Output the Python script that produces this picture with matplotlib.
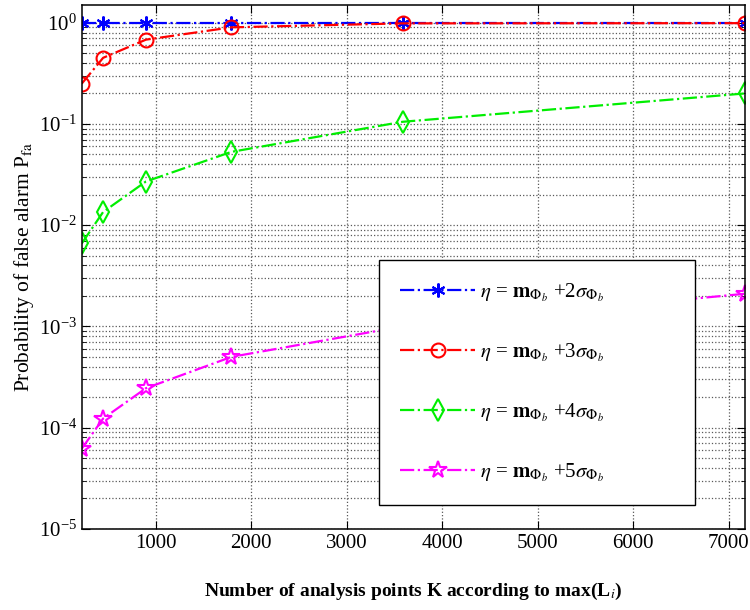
import matplotlib
matplotlib.use("Agg")
import matplotlib.pyplot as plt
from matplotlib.ticker import LogLocator, NullFormatter

plt.rcParams["font.family"] = ["Liberation Serif", "DejaVu Serif"]
plt.rcParams["mathtext.fontset"] = "stix"

# analysis points K
k_points = [224, 448, 896, 1792, 3584, 7168]

# false alarm probability for each threshold
pfa_2sigma = [0.99, 0.99, 0.99, 0.99, 0.99, 0.99]
pfa_3sigma = [0.25, 0.45, 0.68, 0.90, 0.985, 0.99]
pfa_4sigma = [0.0066, 0.0135, 0.027, 0.053, 0.105, 0.20]
pfa_5sigma = [6.2e-5, 1.23e-4, 2.45e-4, 5.0e-4, 1.0e-3, 2.1e-3]

labels = [r"$\eta$ = $\mathbf{m}_{\Phi_b}$ +2$\sigma_{\Phi_b}$",
          r"$\eta$ = $\mathbf{m}_{\Phi_b}$ +3$\sigma_{\Phi_b}$",
          r"$\eta$ = $\mathbf{m}_{\Phi_b}$ +4$\sigma_{\Phi_b}$",
          r"$\eta$ = $\mathbf{m}_{\Phi_b}$ +5$\sigma_{\Phi_b}$"]

fig = plt.figure(figsize=(7.5, 6.1), dpi=100)
ax = fig.add_axes([0.109, 0.133, 0.884, 0.859])

ax.semilogy(k_points, pfa_2sigma, color="blue", ls="-.", lw=1.6,
            marker=(6, 2, 0), ms=10, mew=1.5, label=labels[0])
ax.semilogy(k_points, pfa_3sigma, color="red", ls="-.", lw=1.6,
            marker="o", ms=10, mfc="none", mew=1.5, label=labels[1])
ax.semilogy(k_points, pfa_4sigma, color="#00ee00", ls="-.", lw=1.6,
            marker="d", ms=11, mfc="none", mew=1.5, label=labels[2])
ax.semilogy(k_points, pfa_5sigma, color="magenta", ls="-.", lw=1.6,
            marker="*", ms=13, mfc="none", mew=1.5, label=labels[3])

ax.set_xlim(224, 7168)
ax.set_ylim(1e-5, 1.5)
ax.set_xticks([1000, 2000, 3000, 4000, 5000, 6000, 7000])
ax.yaxis.set_major_locator(LogLocator(base=10, numticks=10))
ax.yaxis.set_minor_locator(LogLocator(base=10, subs=range(2, 10), numticks=20))
ax.yaxis.set_minor_formatter(NullFormatter())

ax.grid(True, which="major", ls=":", color="0.35", lw=0.9)
ax.grid(True, which="minor", axis="y", ls=":", color="0.35", lw=0.9)
ax.tick_params(which="both", direction="in", top=True, right=True, labelsize=15)
ax.tick_params(which="major", length=6)
ax.tick_params(which="minor", length=3)
for s in ax.spines.values():
    s.set_linewidth(1.1)

ax.set_xlabel(r"Number of analysis points K according to max(L$_i$)",
              fontsize=14, fontweight="bold", labelpad=20)
ax.set_ylabel(r"Probability of false alarm P$_{\mathrm{fa}}$", fontsize=15.5,
              labelpad=2)

leg = ax.legend(loc="lower left", bbox_to_anchor=(0.449, 0.046, 0.476, 0.473),
                mode="expand", fontsize=15, frameon=True, fancybox=False,
                edgecolor="black", framealpha=1, borderpad=1.0,
                borderaxespad=0, labelspacing=1.8, handlelength=3.6,
                handletextpad=0.25)
leg.get_frame().set_linewidth(1.0)

fig.savefig("out.png", dpi=100)
